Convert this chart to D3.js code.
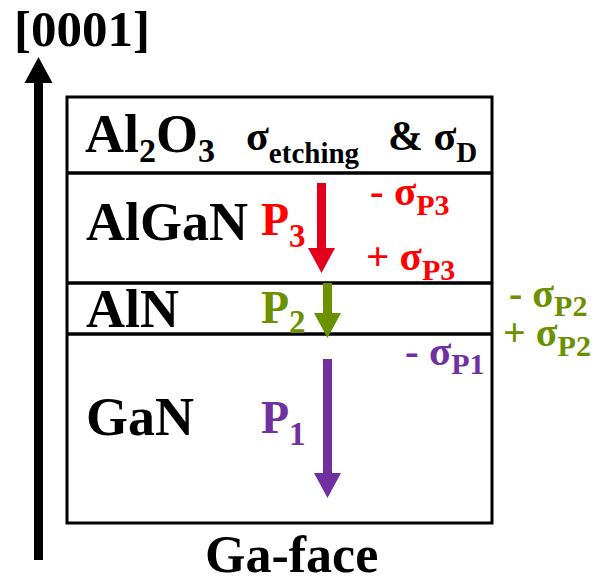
<!DOCTYPE html>
<html><head><meta charset="utf-8">
<script src="https://cdn.jsdelivr.net/npm/d3@7"></script>
<style>html,body{margin:0;padding:0;background:#fff}</style>
</head><body>
<svg id="chart" width="602" height="578"></svg>
<script>
// ---- data ----
const layerNames = ["Al2O3", "AlGaN", "AlN", "GaN"];
const layerThickness = [76, 110, 51, 189];        // relative thickness in diagram units
const polNames = ["P3", "P2", "P1"];
const polLayers = ["AlGaN", "AlN", "GaN"];
const polColors = ["#e4001c", "#6b9000", "#7030a0"];
const textColors = ["#ff0000", "#6b9000", "#7030a0"];
const axisLabel = "[0001]";
const faceLabel = "Ga-face";

const svg = d3.select("#chart");

const total = d3.sum(layerThickness);
const y = d3.scaleLinear().domain([0, total]).range([97, 523]);
const x = d3.scaleLinear().domain([0, 1]).range([67, 492]);
const bounds = [0, ...d3.cumsum(layerThickness)];
const layers = layerNames.map((n, i) => ({name: n, y0: y(bounds[i]), y1: y(bounds[i + 1])}));
const L = Object.fromEntries(layers.map(d => [d.name, d]));

// box and layer lines
svg.append("rect").attr("x", x(0)).attr("y", y(0)).attr("width", x(1) - x(0)).attr("height", y(total) - y(0))
  .attr("fill", "none").attr("stroke", "#000").attr("stroke-width", 3);
svg.selectAll("line.layer").data(bounds.slice(1, -1)).join("line")
  .attr("x1", x(0)).attr("x2", x(1)).attr("y1", d => y(d)).attr("y2", d => y(d))
  .attr("stroke", "#000").attr("stroke-width", 3.5);

// text helper: parts = [[text, isSub]]
function label(px, py, parts, size, color, subSize, subDy) {
  const t = svg.append("text").attr("x", px).attr("y", py)
    .attr("font-family", "Liberation Serif").attr("font-weight", "bold")
    .attr("font-size", size).attr("fill", color);
  let shifted = false;
  parts.forEach(([s, sub]) => {
    const ts = t.append("tspan").text(s);
    if (sub) { ts.attr("font-size", subSize); if (!shifted) { ts.attr("dy", subDy); shifted = true; } }
    else if (shifted) { ts.attr("dy", -subDy); shifted = false; }
  });
  return t;
}

// arrow helper (vertical)
function arrow(cx, yStart, yEnd, shaftW, headW, headL, color) {
  const dir = Math.sign(yEnd - yStart);
  const yb = yEnd - dir * headL;
  const p = d3.path();
  p.moveTo(cx - shaftW / 2, yStart); p.lineTo(cx + shaftW / 2, yStart);
  p.lineTo(cx + shaftW / 2, yb); p.lineTo(cx + headW / 2, yb);
  p.lineTo(cx, yEnd); p.lineTo(cx - headW / 2, yb);
  p.lineTo(cx - shaftW / 2, yb); p.closePath();
  svg.append("path").attr("d", p.toString()).attr("fill", color);
}

// big [0001] arrow
arrow(38.5, 560, 57, 9, 28, 26, "#000");
label(14, 46, [[axisLabel, false]], 51, "#000");

// layer labels
label(85, 152, [["Al", false], ["2", true], ["O", false], ["3", true]], 54, "#000", 34, 10);
label(86, 240, [["AlGaN", false]], 54, "#000");
label(86, 327, [["AlN", false]], 54, "#000");
label(86, 435, [["GaN", false]], 54, "#000");
label(246, 150, [["σ", false], ["etching", true]], 42, "#000", 29, 13);
label(388, 150, [["& σ", false], ["D", true]], 42, "#000", 29, 12);

// polarization arrows
const arrowX = [321.5, 327.5, 327.5];
const arrowSpan = [[10, -10], [0, 4], [25, -25]];  // inset from layer top / bottom
polNames.forEach((n, i) => {
  const ly = L[polLayers[i]];
  arrow(arrowX[i], ly.y0 + arrowSpan[i][0], ly.y1 + arrowSpan[i][1], 9, 27, 25, polColors[i]);
});
label(261, 235, [["P", false], ["3", true]], 46, textColors[0], 33, 12);
label(261, 323, [["P", false], ["2", true]], 46, textColors[1], 33, 10);
label(261, 433, [["P", false], ["1", true]], 46, textColors[2], 33, 12);

// charge labels
label(370, 205, [["- σ", false], ["P3", true]], 41, textColors[0], 30, 10);
label(366, 270, [["+ σ", false], ["P3", true]], 41, textColors[0], 30, 10);
label(509, 307, [["- σ", false], ["P2", true]], 40, textColors[1], 30, 9);
label(503, 346, [["+ σ", false], ["P2", true]], 40, textColors[1], 30, 10);
label(405, 365, [["- σ", false], ["P1", true]], 41, textColors[2], 30, 9);

label(205, 572, [[faceLabel, false]], 52, "#000");
</script>
</body></html>
